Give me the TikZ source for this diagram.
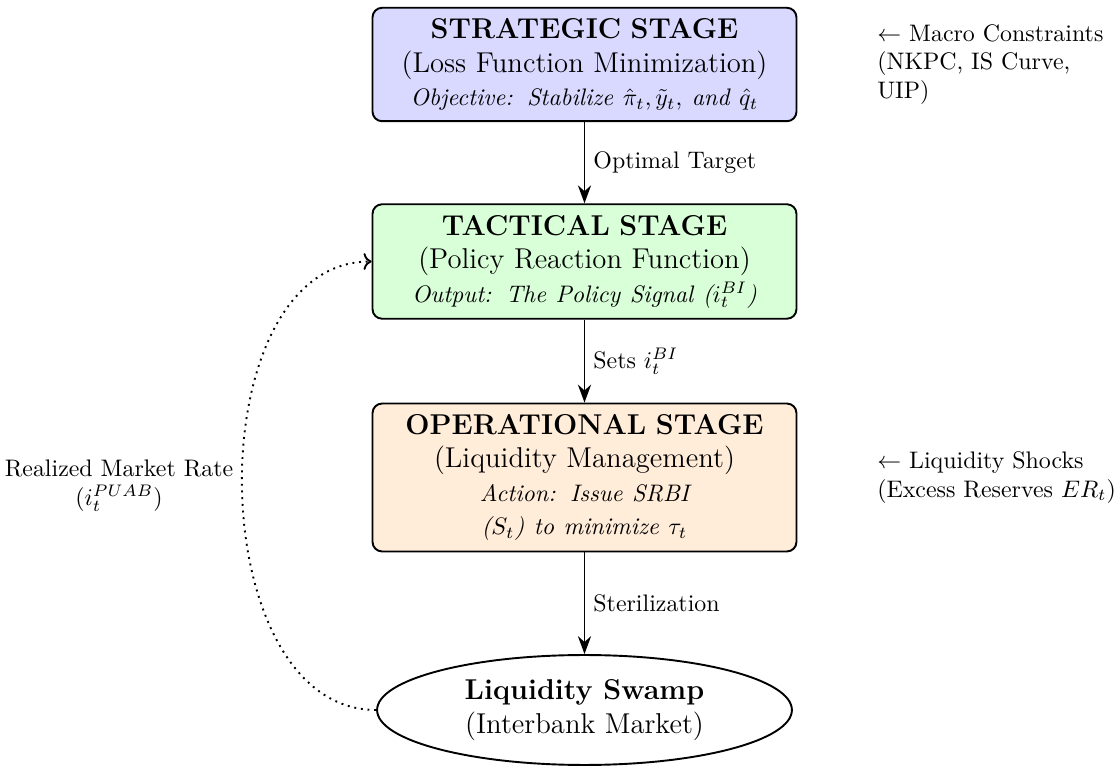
\documentclass[tikz,border=0pt]{standalone}
\usetikzlibrary{arrows.meta,shapes.geometric,positioning}
\begin{document}
\begin{tikzpicture}[x=0.4184pt,y=-0.4184pt,
  stage/.style={draw, thick, rounded corners, text width=6cm, align=center,
    font=\large, inner ysep=4.5pt},
  market/.style={draw, thick, ellipse, minimum width=6.1cm, minimum height=46pt,
    align=center, font=\large},
  flow/.style={thick, -{Stealth[length=7.5pt,width=5.5pt]}},
  sidenote/.style={align=left},
  feedback/.style={thick, dotted, ->}]
\useasboundingbox (0,0) rectangle (1116,767);

% the three policy stages
\node[stage, fill=blue!15] (strat) at (584.5,64.5)
  {\textbf{STRATEGIC STAGE}\\
   (Loss Function Minimization)\\
   {\normalsize\itshape Objective: Stabilize $\hat{\pi}_t, \tilde{y}_t,$ and $\hat{q}_t$}};
\node[stage, fill=green!15] (tact) at (584.5,261.5)
  {\textbf{TACTICAL STAGE}\\
   (Policy Reaction Function)\\
   {\normalsize\itshape Output: The Policy Signal ($i_t^{BI}$)}};
\node[stage, fill=orange!15] (oper) at (584.5,477.5)
  {\textbf{OPERATIONAL STAGE}\\
   (Liquidity Management)\\
   {\normalsize\itshape Action: Issue SRBI}\\
   {\normalsize\itshape ($S_t$) to minimize $\tau_t$}};

% the market at the bottom
\node[market] (swamp) at (584.5,710)
  {\textbf{Liquidity Swamp}\\
   (Interbank Market)};

% side notes
\node[sidenote, right=1.05cm of strat] (macro)
  {$\leftarrow$ Macro Constraints\\(NKPC, IS Curve,\\UIP)};
\node[sidenote, right=1.05cm of oper] (shocks)
  {$\leftarrow$ Liquidity Shocks\\(Excess Reserves $ER_t$)};

% transmission chain
\draw[flow] (strat) -- node[right] {Optimal Target} (tact);
\draw[flow] (tact) -- node[right] {Sets $i_t^{BI}$} (oper);
\draw[flow] (oper) -- node[right] {Sterilization} (swamp);

% feedback from the market rate
\draw[feedback] (swamp.west) to[out=180, in=180]
  node[left, align=center] {Realized Market Rate\\($i_t^{PUAB}$)} (tact.west);
\end{tikzpicture}
\end{document}
